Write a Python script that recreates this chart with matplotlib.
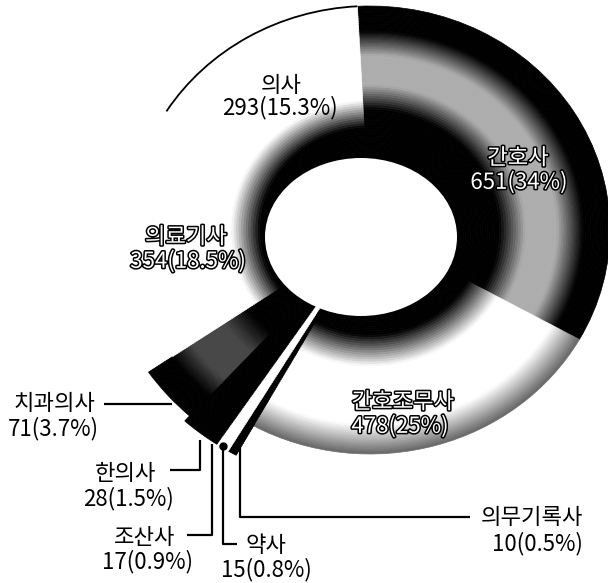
import matplotlib
matplotlib.use('Agg')
import matplotlib.pyplot as plt
import numpy as np
from matplotlib.patches import Ellipse, Arc
import matplotlib.patheffects as pe

plt.rcParams['font.family'] = ['Noto Sans CJK KR', 'DejaVu Sans']

# ---------------- data ----------------
categories = ['간호사', '간호조무사', '의무기록사', '약사', '조산사',
              '한의사', '치과의사', '의료기사', '의사']
counts = [651, 478, 10, 15, 17, 28, 71, 354, 293]
percents = ['34%', '25%', '0.5%', '0.8%', '0.9%', '1.5%', '3.7%', '18.5%', '15.3%']

# ---------------- styles ----------------
shade_kind = ['nurse', 'white_shadow', 'black', 'white', 'black',
              'black', 'dark', 'white_fade', 'white_fade']
outer_r = [1.0, 1.0, 1.15, 1.15, 1.15, 1.15, 1.12, 1.0, 1.0]
START = 93

shade_tables = {
    'nurse':        ([0, 0.54, 0.65, 0.78, 0.89, 1.3], [0, 0, 0.68, 0.68, 0, 0]),
    'white_shadow': ([0, 0.47, 0.61, 0.87, 1.0], [0, 0, 1, 1, 0.4]),
    'white_fade':   ([0, 0.46, 0.58, 1.3], [0, 0, 1, 1]),
    'dark':         ([0, 0.62, 0.74, 0.9, 1.0, 1.3], [0, 0, 0.28, 0.28, 0, 0]),
    'black':        ([0, 1.3], [0, 0]),
    'white':        ([0, 1.3], [1, 1]),
}

W, H = 608, 583
fig = plt.figure(figsize=(W / 100, H / 100), dpi=100)

# pie geometry in pixels
cx, cy, rx, ry = 370, 230, 240, 224
s = 1.4
ax = fig.add_axes([(cx - s * rx) / W, 1 - (cy + s * ry) / H, 2 * s * rx / W, 2 * s * ry / H])

r0, r_max = 0.2, max(outer_r)
n_rings = 95
dr = (r_max - r0) / n_rings
for i in range(n_rings):
    r_out = r0 + (i + 1) * dr
    r_mid = r_out - dr / 2
    cols = []
    for k, ro in zip(shade_kind, outer_r):
        if r_mid > ro:
            cols.append((1, 1, 1, 0))
            continue
        xp, fp = shade_tables[k]
        g = float(np.interp(r_mid, xp, fp))
        cols.append((g, g, g, 1))
    wedges, _ = ax.pie(counts, radius=r_out, startangle=START, counterclock=False,
                       colors=cols, wedgeprops=dict(width=dr * 1.05, linewidth=0))
    for w, c in zip(wedges, cols):
        if c[3] > 0:
            w.set_edgecolor(c)
            w.set_linewidth(0.5)

# outer arc of the 의사 slice
total = sum(counts)
start_frac = sum(counts[:-1]) / total
ax.add_patch(Arc((0, 0), 2, 2, theta1=START - 360, theta2=START - 360 * start_frac,
                 color='black', lw=1.3, zorder=5))

# central hole
hx, hy, hrx, hry = 361, 237, 96, 79
ax.add_patch(Ellipse(((hx - cx) / rx, -(hy - cy) / ry), 2 * hrx / rx, 2 * hry / ry,
                     facecolor='white', edgecolor='none', zorder=6))

ax.set_aspect('auto')
ax.set_xlim(-s, s)
ax.set_ylim(-s, s)
ax.axis('off')

# ---------------- labels ----------------
tax = fig.add_axes([0, 0, 1, 1], zorder=10)
tax.set_xlim(0, W)
tax.set_ylim(H, 0)
tax.axis('off')
tax.patch.set_alpha(0)

fs = 16
outline = [pe.withStroke(linewidth=2.2, foreground='black')]
label_pos = {
    '의사':      ((281, 86), (280, 108), False),
    '간호사':    ((518, 158), (519, 182), True),
    '의료기사':  ((186, 237), (188, 261), True),
    '간호조무사': ((403, 402), (400, 426), True),
    '치과의사':  ((55, 404), (53, 429), False),
    '한의사':    ((126, 474), (128, 499), False),
    '조산사':    ((145, 538), (147, 562), False),
    '약사':      ((266, 546), (266, 570), False),
    '의무기록사': ((532, 518), (537, 544), False),
}
for cat, cnt, pct in zip(categories, counts, percents):
    (nx, ny), (vx, vy), hollow = label_pos[cat]
    kw = dict(ha='center', va='center', fontsize=fs)
    if hollow:
        kw.update(color='white', path_effects=outline)
    else:
        kw.update(color='black')
    tax.text(nx, ny, cat, **kw)
    tax.text(vx, vy, f'{cnt}({pct})', **kw)

# leader lines
lk = dict(color='black', lw=1.6, solid_capstyle='butt')
tax.plot([104, 172], [404, 404], **lk)
tax.plot([170, 200, 200], [470, 470, 440], **lk)
tax.plot([187, 212, 212], [535, 535, 444], **lk)
tax.plot([223, 223, 237], [446, 544, 544], **lk)
tax.plot([223], [446], 'o', color='black', ms=5)
tax.plot([240, 240, 470], [448, 517, 517], **lk)

fig.savefig('out.png', dpi=100)
